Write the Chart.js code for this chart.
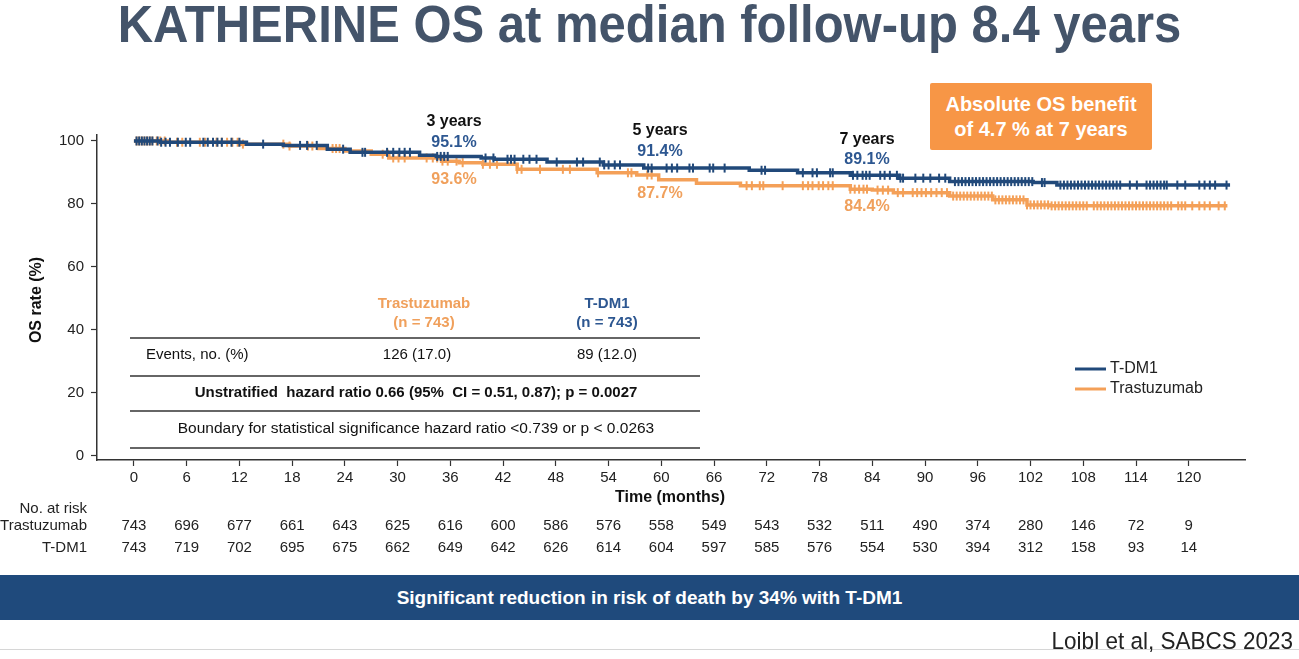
<!DOCTYPE html>
<html><head><meta charset="utf-8">
<script src="https://cdn.jsdelivr.net/npm/chart.js@4.4.1/dist/chart.umd.min.js"></script>
<style>
html,body{margin:0;padding:0;background:#fff;}
body{width:1299px;height:659px;position:relative;overflow:hidden;font-family:"Liberation Sans",Arial,sans-serif;}
#title{position:absolute;left:0;top:-2px;width:1299px;text-align:center;font-weight:bold;font-size:49px;line-height:55px;color:#44546a;white-space:nowrap;transform:scaleY(1.05);transform-origin:50% 44px;}
#box{position:absolute;left:930px;top:83px;width:222px;height:67px;background:#f79646;color:#fff;font-weight:bold;font-size:20px;line-height:25px;text-align:center;display:flex;align-items:center;justify-content:center;border-radius:2px;}
#banner{position:absolute;left:0;top:575px;width:1299px;height:45px;background:#1f4a7c;color:#fff;font-weight:bold;font-size:19px;line-height:45px;text-align:center;}
#rule{position:absolute;left:0;top:649px;width:1299px;height:1px;background:#d6d6d6;}
#cite{position:absolute;right:6px;top:629px;font-size:22.5px;line-height:25px;color:#222;white-space:nowrap;transform:scaleY(1.1);transform-origin:100% 20px;}
canvas{position:absolute;left:0;top:0;}
</style></head>
<body>
<div id="title">KATHERINE OS at median follow-up 8.4 years</div>
<canvas id="c" width="1299" height="659"></canvas>
<div id="box">Absolute OS benefit<br>of 4.7 % at 7 years</div>
<div id="banner">Significant reduction in risk of death by 34% with T-DM1</div>
<div id="rule"></div>
<div id="cite">Loibl et al, SABCS 2023</div>
<script>
// ---------- data ----------
const months = [0,6,12,18,24,30,36,42,48,54,60,66,72,78,84,90,96,102,108,114,120];
const yTicks = [0,20,40,60,80,100];

const tdm1Times = [0,3,12.8,17,22,24.6,32.5,34.4,39.5,41,47,53.4,58,70,75.5,81.5,87,92.8,102.3,105,124.7];
const tdm1Surv  = [100,99.6,99.0,98.6,97.4,96.4,95.5,95.1,94.6,94.2,93.3,92.4,91.4,90.7,89.9,89.1,88.2,87.1,86.8,86.0,86.0];

const trasTimes = [0,4,12,17.7,21,24,27,29,35,37,39.7,43.6,52.7,57.2,59.7,64,69,81.5,84,86.4,92.8,97.7,101.6,104.2,124.4];
const trasSurv  = [100,99.6,99.0,98.4,97.6,96.8,95.8,94.6,93.6,93.1,92.6,91.0,89.9,89.2,87.7,86.6,85.8,84.7,84.4,83.6,82.5,81.3,79.7,79.4,79.4];

const tdm1Censor = [0.3,0.6,0.9,1.2,1.5,1.8,2.1,2.7,3.1,3.6,4.1,5,5.9,6.4,7.9,8.4,9,9.5,10,11.1,12,14.7,18.9,19.7,20.8,23.8,26,26.3,28.8,29.5,30.2,30.8,31.4,34.5,34.9,35.3,35.7,
  40,40.9,42.5,42.9,43.3,44.3,45,45.8,48.1,50.4,51.1,53,53.5,54,54.7,55.3,58.5,58.9,60.6,61.2,61.8,63.2,63.6,65.5,65.9,67.2,71.4,71.8,76.1,77.2,77.7,79.2,79.5,81.8,82.3,82.9,
  83.3,83.7,84.9,85.4,86,86.8,87.2,87.5,88.9,89.8,90.6,91.6,92.3,
  93.4,93.8,94.2,94.6,95,95.4,95.8,96.2,96.6,97,97.4,97.8,98.2,98.6,99,99.4,99.8,100.2,100.6,101,101.4,101.8,102.2,
  103.3,103.6,
  105.4,105.8,106.2,106.6,107,107.4,107.8,108.2,108.6,109,109.4,109.8,110.2,110.6,111,111.4,111.8,112.2,
  113.3,114.1,115.2,115.6,116,116.4,116.8,117.2,117.5,118.7,119.6,121.2,121.8,122.4,123,124.3];

const trasCensor = [0.3,0.6,0.9,1.2,1.5,1.8,2.1,2.6,3.0,3.5,4.9,5.5,7.5,8.1,9.4,10,10.6,11.2,11.8,12.4,17,17.7,19.8,20.3,22.6,23,23.4,28.3,28.9,29.5,30.1,30.8,33.3,34,34.5,35.1,35.7,
  36.7,37.4,39.7,40.5,41.3,43.6,44.1,46.2,48.8,49.6,52.8,56.2,56.6,58.4,58.9,69.7,70.3,71.2,71.6,73.8,76.1,76.7,77.2,77.9,78.4,79,79.5,81.5,82,82.5,83,83.4,
  84.6,85.2,85.8,86.9,87.5,88.6,89.1,89.6,90.1,90.7,91.3,91.9,92.5,
  93.2,93.6,94,94.4,94.8,95.2,95.6,96,96.4,96.8,97.2,97.6,98,98.4,98.8,99.2,99.6,100,100.4,100.8,101.2,101.6,102,102.4,102.8,103.2,103.6,104,104.4,104.8,105.2,105.6,106,106.4,106.8,107.2,107.6,108,108.4,109.2,109.6,110,110.4,110.8,111.2,111.6,112,112.4,112.8,113.2,113.6,114,114.4,114.8,115.2,115.6,116,116.4,116.8,117.2,117.6,118,118.8,119.2,119.6,120.4,
  121.2,121.8,122.4,123.4,124.1];

const trasRisk = [743,696,677,661,643,625,616,600,586,576,558,549,543,532,511,490,374,280,146,72,9];
const tdm1Risk = [743,719,702,695,675,662,649,642,626,614,604,597,585,576,554,530,394,312,158,93,14];

const landmarkLabels = ['3 years','5 years','7 years'];
const tdm1Landmark = ['95.1%','91.4%','89.1%'];
const trasLandmark = ['93.6%','87.7%','84.4%'];

// ---------- helpers ----------
function survAt(times, surv, t){ let v = surv[0]; for(let i=0;i<times.length;i++){ if(times[i] <= t) v = surv[i]; } return v; }
const BLUE = '#21497a', ORANGE = '#f4a058';
const BLUE_T = '#2d5791', ORANGE_T = '#f0a05c';
const FF = '"Liberation Sans", Arial, sans-serif';

const overlay = {
  id:'overlay',
  afterDraw(chart){
    const c = chart.ctx, xs = chart.scales.x;
    c.save();
    function txt(s,x,y,font,color,align,maxW){
      c.font = font; c.fillStyle = color; c.textAlign = align || 'center'; c.textBaseline = 'middle';
      if (maxW) c.fillText(s,x,y,maxW); else c.fillText(s,x,y);
    }
    const lx = [454,660,867], yy = [122,131,140], by = [143,152,160], oy = [180,194,207];
    landmarkLabels.forEach((s,i)=>{
      txt(s, lx[i], yy[i], 'bold 16px '+FF, '#111');
      txt(tdm1Landmark[i], lx[i], by[i], 'bold 16px '+FF, BLUE_T);
      txt(trasLandmark[i], lx[i], oy[i], 'bold 16px '+FF, ORANGE_T);
    });
    c.strokeStyle = '#333'; c.lineWidth = 1.5;
    [338,376,411,448].forEach(y=>{ c.beginPath(); c.moveTo(130,y); c.lineTo(700,y); c.stroke(); });
    txt('Trastuzumab', 424, 304, 'bold 15px '+FF, ORANGE_T);
    txt('(n = 743)', 424, 323, 'bold 15px '+FF, ORANGE_T);
    txt('T-DM1', 607, 304, 'bold 15px '+FF, BLUE_T);
    txt('(n = 743)', 607, 323, 'bold 15px '+FF, BLUE_T);
    txt('Events, no. (%)', 146, 355, '15px '+FF, '#111', 'left');
    txt('126 (17.0)', 417, 355, '15px '+FF, '#111');
    txt('89 (12.0)', 607, 355, '15px '+FF, '#111');
    txt('Unstratified  hazard ratio 0.66 (95%  CI = 0.51, 0.87); p = 0.0027', 416, 393, 'bold 15px '+FF, '#111', 'center', 450);
    txt('Boundary for statistical significance hazard ratio <0.739 or p < 0.0263', 416, 429, '15.5px '+FF, '#111', 'center', 478);
    c.lineWidth = 3;
    c.strokeStyle = BLUE; c.beginPath(); c.moveTo(1075,369); c.lineTo(1106,369); c.stroke();
    c.strokeStyle = ORANGE; c.beginPath(); c.moveTo(1075,389); c.lineTo(1106,389); c.stroke();
    txt('T-DM1', 1110, 369, '16px '+FF, '#222', 'left');
    txt('Trastuzumab', 1110, 389, '16px '+FF, '#222', 'left');
    txt('Time (months)', 670, 498, 'bold 16px '+FF, '#111');
    c.save(); c.translate(37, 300); c.rotate(-Math.PI/2);
    txt('OS rate (%)', 0, 0, 'bold 16px '+FF, '#111');
    c.restore();
    txt('No. at risk', 87, 509, '15px '+FF, '#222', 'right');
    txt('Trastuzumab', 87, 526, '15px '+FF, '#222', 'right');
    txt('T-DM1', 87, 548, '15px '+FF, '#222', 'right');
    months.forEach((m,i)=>{
      const px = xs.getPixelForValue(m);
      txt(String(trasRisk[i]), px, 526, '15px '+FF, '#222');
      txt(String(tdm1Risk[i]), px, 548, '15px '+FF, '#222');
    });
    c.restore();
  }
};

const censorDs = (times, surv, cens, color, order) => ({
  label:'censored', data: cens.map(t=>({x:t, y:survAt(times, surv, t)})),
  showLine:false, pointStyle:'line', pointRotation:90, pointRadius:4.5,
  pointBorderColor:color, pointBorderWidth:2, pointBackgroundColor:color, order
});

new Chart(document.getElementById('c'), {
  type:'line',
  data:{datasets:[
    {label:'T-DM1', data: tdm1Times.map((t,i)=>({x:t,y:tdm1Surv[i]})), borderColor:BLUE, borderWidth:3.5, stepped:'before', pointRadius:0, fill:false, order:1},
    censorDs(tdm1Times, tdm1Surv, tdm1Censor, BLUE, 0),
    {label:'Trastuzumab', data: trasTimes.map((t,i)=>({x:t,y:trasSurv[i]})), borderColor:ORANGE, borderWidth:3.5, stepped:'before', pointRadius:0, fill:false, order:3},
    censorDs(trasTimes, trasSurv, trasCensor, ORANGE, 2)
  ]},
  options:{
    responsive:false, animation:false, events:[],
    layout:{padding:{left:0, top:135, right:54, bottom:159}},
    plugins:{legend:{display:false}, tooltip:{enabled:false}},
    scales:{
      x:{type:'linear', min:-4.2, max:126.4,
        afterBuildTicks:s=>{ s.ticks = months.map(v=>({value:v})); },
        afterFit:s=>{ s.height = 40; },
        border:{display:true, color:'#333', width:1.5},
        grid:{display:true, drawOnChartArea:false, drawTicks:true, tickLength:6, color:'#333', tickWidth:1.2},
        ticks:{color:'#222', font:{family:FF, size:15}, padding:3, maxRotation:0, autoSkip:false}
      },
      y:{type:'linear', min:-1.3, max:101.9,
        afterBuildTicks:s=>{ s.ticks = yTicks.map(v=>({value:v})); },
        afterFit:s=>{ s.width = 97; },
        border:{display:true, color:'#333', width:1.5},
        grid:{display:true, drawOnChartArea:false, drawTicks:true, tickLength:6, color:'#333', tickWidth:1.2},
        ticks:{color:'#222', font:{family:FF, size:15}, padding:7, autoSkip:false}
      }
    }
  },
  plugins:[overlay]
});
</script>
</body></html>
